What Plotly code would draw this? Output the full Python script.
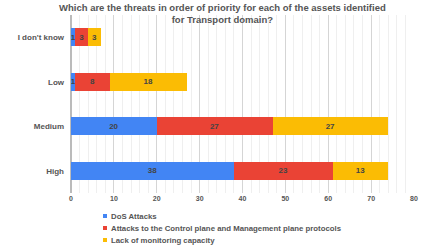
import plotly.graph_objects as go

categories = ["I don't know", "Low", "Medium", "High"]
series_names = ["DoS Attacks",
                "Attacks to the Control plane and Management plane protocols",
                "Lack of monitoring capacity"]
dos = [1, 1, 20, 38]
ctrl = [3, 8, 27, 23]
lack = [3, 18, 27, 13]
colors = ["#4285F4", "#EA4335", "#FBBC04"]
x_ticks = [0, 10, 20, 30, 40, 50, 60, 70, 80]

W, H = 427, 248
ML, MR, MT, MB = 71, 13, 15, 55
PW, PH = W - ML - MR, H - MT - MB

def px_x(px):
    return (px - ML) / PW

def px_y(py):
    return (H - MB - py) / PH

fig = go.Figure()
for name, vals, col in zip(series_names, [dos, ctrl, lack], colors):
    fig.add_trace(go.Bar(
        y=categories, x=vals, name=name, orientation="h",
        marker=dict(color=col, line=dict(width=0)),
        text=[str(v) for v in vals], textposition="inside",
        insidetextanchor="middle", constraintext="none", textangle=0,
        textfont=dict(family="Liberation Sans", size=8, color="#444444", weight="bold"),
        showlegend=False, hoverinfo="x+y+name",
    ))

# custom compact legend
shapes = []
annotations = []
for i, (name, col) in enumerate(zip(series_names, colors)):
    cy = px_y(216 + 12 * i)
    shapes.append(dict(type="rect", xref="paper", yref="paper",
                       xsizemode="pixel", ysizemode="pixel",
                       xanchor=px_x(105), yanchor=cy,
                       x0=-2, x1=2, y0=-2, y1=2,
                       fillcolor=col, line=dict(width=0)))
    annotations.append(dict(text=name, xref="paper", yref="paper",
                            x=px_x(108.5), y=cy, xanchor="left", yanchor="middle",
                            showarrow=False,
                            font=dict(family="Liberation Sans", size=7.8,
                                      color="#555555", weight="bold")))

annotations.append(dict(
    text="Which are the threats in order of priority for each of the assets identified<br>for Transport domain?",
    xref="paper", yref="paper", x=px_x(222), y=px_y(27),
    xanchor="center", yanchor="bottom", showarrow=False,
    font=dict(family="Liberation Sans", size=9.5, color="#555555", weight="bold"),
))

fig.update_layout(
    barmode="stack", bargap=0.6,
    width=W, height=H,
    margin=dict(l=ML, r=MR, t=MT, b=MB, autoexpand=False),
    paper_bgcolor="white", plot_bgcolor="white",
    font=dict(family="Liberation Sans", size=8, color="#555555"),
    xaxis=dict(range=[0, 80], tickvals=x_ticks, showgrid=True, gridcolor="#d5d5d5",
               gridwidth=1, zeroline=True, zerolinecolor="#bbbbbb",
               minor=dict(dtick=2, showgrid=True, gridcolor="#efefef"),
               tickfont=dict(size=7, color="#555555", weight="bold"), ticks=""),
    yaxis=dict(categoryorder="array", categoryarray=categories, autorange="reversed",
               tickfont=dict(size=8, color="#555555", weight="bold"), ticks="",
               ticklabelstandoff=6),
    shapes=shapes,
    annotations=annotations,
    showlegend=False,
)
fig.write_html("out.html", config={"displayModeBar": False},
               post_script="document.body.style.margin='0';document.body.style.overflow='hidden';")
